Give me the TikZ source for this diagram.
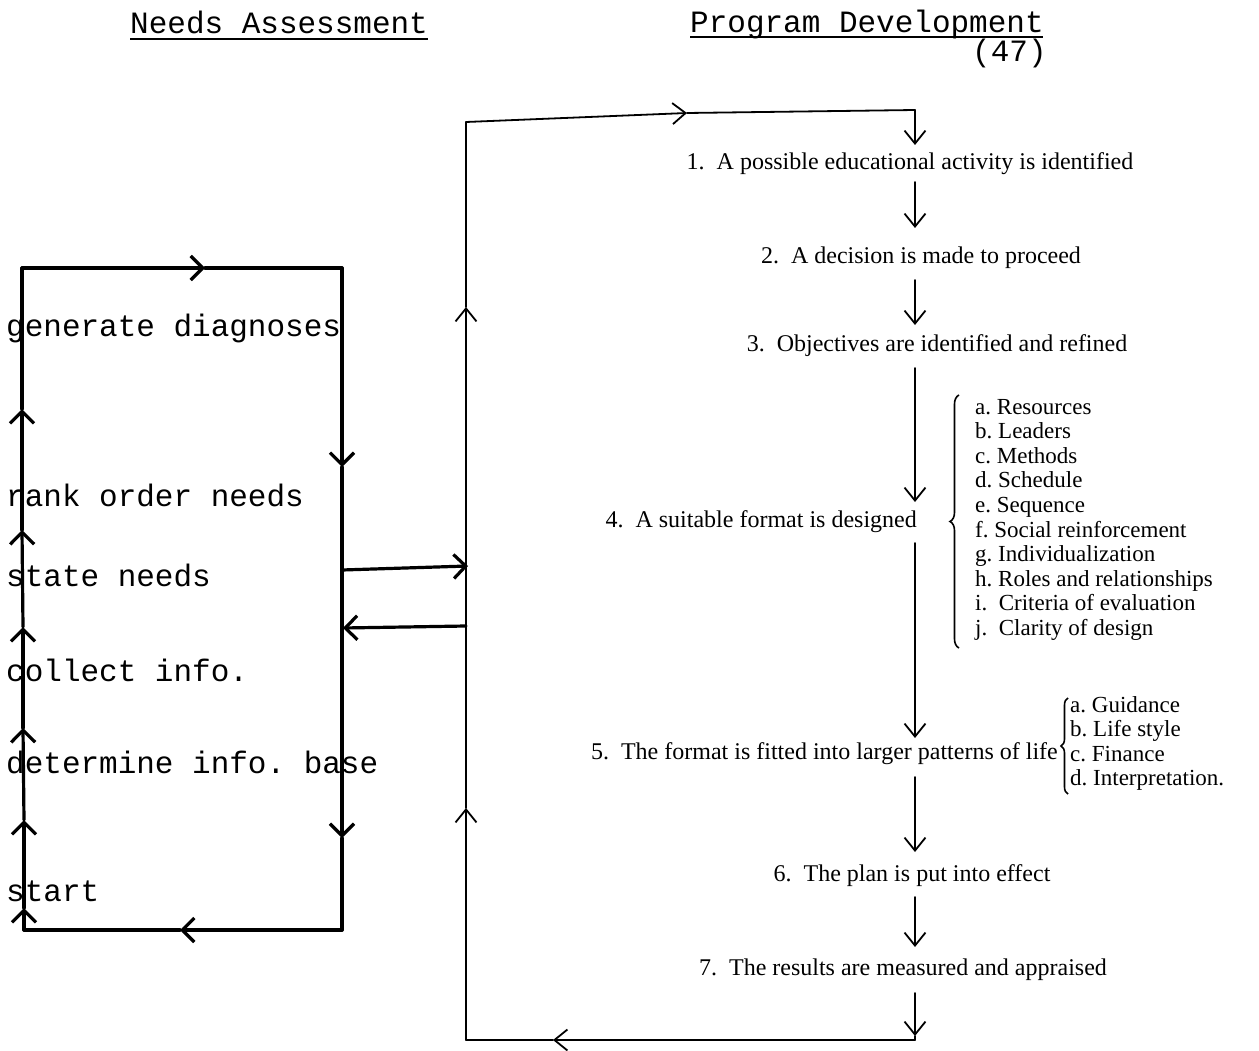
\documentclass[tikz,border=0pt]{standalone}
\usepackage{fontspec}
\setmainfont{Liberation Serif}
\newfontfamily\twfont{Liberation Mono}
\usetikzlibrary{arrows.meta,decorations.pathreplacing}
\frenchspacing
\begin{document}
\begin{tikzpicture}[x=1pt,y=-1pt,
  heavy/.style={line width=3.2pt,line cap=round,line join=round},
  light/.style={line width=1.8pt,line cap=round,line join=round},
  bigbarb/.style={-{Straight Barb[length=12pt,width=24pt]}},
  smallbarb/.style={-{Straight Barb[length=13pt,width=21pt]}},
  twtext/.style={font=\twfont\fontsize{31}{31}\selectfont,inner sep=0pt,anchor=base west},
  steptext/.style={font=\fontsize{24}{24}\selectfont,inner sep=0pt},
  itemtext/.style={font=\fontsize{23}{23}\selectfont,inner sep=0pt,anchor=base west},
  bracestyle/.style={line width=1.6pt,decorate,decoration={brace,amplitude=#1}}
]
\path[use as bounding box] (0,0) rectangle (1259,1051);

% headers
\node[twtext] (hNA) at (130,34) {Needs Assessment};
\node[twtext] (hPD) at (690,33) {Program Development};
\node[twtext] (h47) at (972,62) {(47)};
\draw[line width=1.4pt] (hNA.base west) ++(0,5) -- ++(298,0);
\draw[line width=1.4pt] (hPD.base west) ++(0,4) -- ++(353,0);

% left box texts
\node[twtext] (tgen) at (6,336) {generate diagnoses};
\node[twtext] (trank) at (6,506) {rank order needs};
\node[twtext] (tstate) at (6,586) {state needs};
\node[twtext] (tcoll) at (6,681) {collect info.};
\node[twtext] (tdet) at (6,773) {determine info. base};
\node[twtext] (tstart) at (6,901) {start};

% left box corners and arrow tips
\coordinate (TL) at (22,268);
\coordinate (TR) at (342,268);
\coordinate (BR) at (342,930);
\coordinate (BL) at (24,930);
\coordinate (at) at (205,268);
\coordinate (ar1) at (342,467);
\coordinate (ar2) at (342,838);
\coordinate (ab) at (180,930);
\coordinate (al1) at (22,409);
\coordinate (al2) at (22,530);
\coordinate (al3) at (23,627);
\coordinate (al4) at (23,728);
\coordinate (al5) at (24,820);
\coordinate (al6) at (24,908);

\draw[heavy,bigbarb] (TL) -- (at);
\draw[heavy] (at) -- (TR);
\draw[heavy,bigbarb] (TR) -- (ar1);
\draw[heavy,bigbarb] (ar1) -- (ar2);
\draw[heavy] (ar2) -- (BR);
\draw[heavy,bigbarb] (BR) -- (ab);
\draw[heavy] (ab) -- (BL);
\draw[heavy,bigbarb] (BL) -- (al6);
\draw[heavy,bigbarb] (al6) -- (al5);
\draw[heavy,bigbarb] (al5) -- (al4);
\draw[heavy,bigbarb] (al4) -- (al3);
\draw[heavy,bigbarb] (al3) -- (al2);
\draw[heavy,bigbarb] (al2) -- (al1);
\draw[heavy] (al1) -- (TL);

% connectors between the two parts
\coordinate (cOut) at (342,570);
\coordinate (cIn) at (468,566);
\coordinate (cBack) at (466,626);
\coordinate (cRet) at (343,628);
\draw[heavy,bigbarb] (cOut) -- (cIn);
\draw[heavy,bigbarb] (cBack) -- (cRet);

% right loop
\coordinate (RTL) at (466,122);
\coordinate (rt) at (687,113);
\coordinate (RTR) at (915,110);
\coordinate (RBR) at (915,1040);
\coordinate (rb) at (553,1040);
\coordinate (RBL) at (466,1040);
\coordinate (ru1) at (466,808);
\coordinate (ru2) at (466,307);
\draw[light,smallbarb] (RTL) -- (rt);
\draw[light] (rt) -- (RTR);
\draw[light,smallbarb] (RBR) -- (rb);
\draw[light] (rb) -- (RBL);
\draw[light,smallbarb] (RBL) -- (ru1);
\draw[light,smallbarb] (ru1) -- (ru2);
\draw[light] (ru2) -- (RTL);

% steps
\node[steptext,anchor=base] (s1) at (910,170) {1.\ \ A possible educational activity is identified};
\node[steptext,anchor=base] (s2) at (921,264) {2.\ \ A decision is made to proceed};
\node[steptext,anchor=base] (s3) at (937,351) {3.\ \ Objectives are identified and refined};
\node[steptext,anchor=base east] (s4) at (917,527) {4.\ \ A suitable format is designed};
\node[steptext,anchor=base east] (s5) at (1058,759) {5.\ \ The format is fitted into larger patterns of life};
\node[steptext,anchor=base] (s6) at (912,881) {6.\ \ The plan is put into effect};
\node[steptext,anchor=base] (s7) at (903,975) {7.\ \ The results are measured and appraised};

% central arrows
\coordinate (d1) at (915,145);
\coordinate (e1) at (915,182); \coordinate (d2) at (915,228);
\coordinate (e2) at (915,280); \coordinate (d3) at (915,325);
\coordinate (e3) at (915,368); \coordinate (d4) at (915,502);
\coordinate (e4) at (915,543); \coordinate (d5) at (915,738);
\coordinate (e5) at (915,777); \coordinate (d6) at (915,852);
\coordinate (e6) at (915,897); \coordinate (d7) at (915,947);
\coordinate (e7) at (915,993); \coordinate (d8) at (915,1036);
\draw[light,smallbarb] (RTR) -- (d1);
\draw[light,smallbarb] (e1) -- (d2);
\draw[light,smallbarb] (e2) -- (d3);
\draw[light,smallbarb] (e3) -- (d4);
\draw[light,smallbarb] (e4) -- (d5);
\draw[light,smallbarb] (e5) -- (d6);
\draw[light,smallbarb] (e6) -- (d7);
\draw[light,smallbarb] (e7) -- (d8);
\draw[light] (d8) -- (RBR);

% list for step 4
\draw[bracestyle=9pt] (959,648) -- (959,395);
\foreach \t [count=\i from 0] in {a. Resources,b. Leaders,c. Methods,d. Schedule,e. Sequence,f. Social reinforcement,g. Individualization,h. Roles and relationships,i.\ \ Criteria of evaluation,j.\ \ Clarity of design}{
  \node[itemtext] (l4-\i) at (975,{414+24.6*\i}) {\t};
}

% list for step 5
\draw[bracestyle=7pt] (1068,794) -- (1068,698);
\foreach \t [count=\i from 0] in {a. Guidance,b. Life style,c. Finance,d. Interpretation.}{
  \node[itemtext] (l5-\i) at (1070,{712+24.6*\i}) {\t};
}
\end{tikzpicture}
\end{document}
